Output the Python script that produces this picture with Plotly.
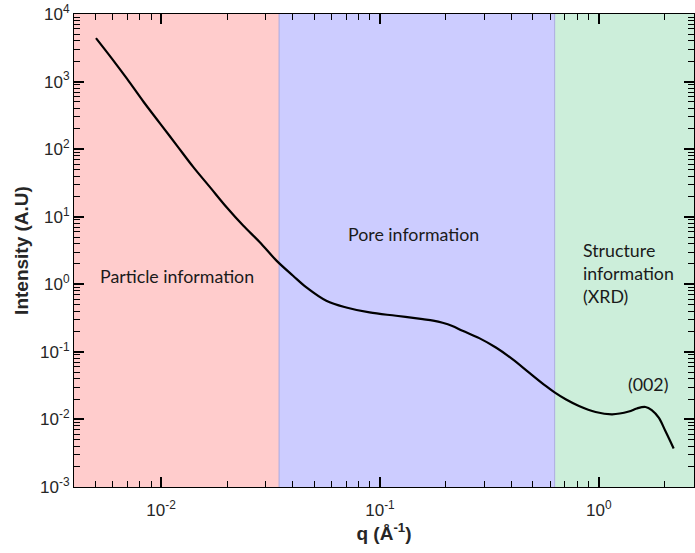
import plotly.graph_objects as go
import numpy as np

# ---- data ----
q_values = [0.00504, 0.00596, 0.00698, 0.00831, 0.0099, 0.01179, 0.01404, 0.01672,
            0.01992, 0.0237, 0.02825, 0.03366, 0.04006, 0.04612, 0.05686, 0.07015,
            0.0896, 0.1185, 0.1567, 0.1750, 0.1932, 0.2140, 0.2383, 0.2840, 0.3384,
            0.4027, 0.4799, 0.5717, 0.630, 0.705, 0.811, 0.966, 1.150, 1.370, 1.490,
            1.633, 1.744, 1.877, 2.013, 2.196]
intensity = [4400, 2188, 1104, 503, 239, 113.9, 54.2, 27.4,
             13.8, 7.40, 4.19, 2.24, 1.34, 0.90, 0.571, 0.454,
             0.383, 0.342, 0.305, 0.290, 0.270, 0.242, 0.205, 0.1596, 0.1159,
             0.0780, 0.0493, 0.0313, 0.0249, 0.01986, 0.0158, 0.01288, 0.01191, 0.01309, 0.01452,
             0.01528, 0.01377, 0.01060, 0.00673, 0.00372]

region_bounds = [0.004, 0.0346, 0.628, 2.72]
region_colors = ["rgb(255,204,204)", "rgb(204,204,255)", "rgb(204,238,218)"]
region_labels = ["Particle information", "Pore information", "Structure<br>information<br>(XRD)"]
peak_label = "(002)"

x_tickvals = [0.01, 0.1, 1]
x_ticktext = ["10<sup>-2</sup>", "10<sup>-1</sup>", "10<sup>0</sup>"]
y_tickvals = [1e-3, 1e-2, 1e-1, 1, 10, 100, 1000, 10000]
y_ticktext = ["10<sup>-3</sup>", "10<sup>-2</sup>", "10<sup>-1</sup>", "10<sup>0</sup>",
              "10<sup>1</sup>", "10<sup>2</sup>", "10<sup>3</sup>", "10<sup>4</sup>"]

# minor tick positions (2..9 within every decade)
x_minor = [m * 10.0 ** e for e in range(-3, 1) for m in range(2, 10)]
y_minor = [m * 10.0 ** e for e in range(-3, 4) for m in range(2, 10)]

x_range = [np.log10(region_bounds[0]), np.log10(region_bounds[-1])]
y_range = [-3, 4]

fig = go.Figure()
fig.add_trace(go.Scatter(x=q_values, y=intensity, mode="lines",
                         line=dict(color="black", width=2.2, shape="spline", smoothing=1.0),
                         showlegend=False))
# carrier trace for the minor-tick axes (invisible)
fig.add_trace(go.Scatter(x=q_values[:1], y=intensity[:1], xaxis="x2", yaxis="y2",
                         mode="markers", marker=dict(opacity=0), showlegend=False))

for i, c in enumerate(region_colors):
    fig.add_shape(type="rect", xref="x", yref="paper",
                  x0=region_bounds[i], x1=region_bounds[i + 1], y0=0, y1=1,
                  fillcolor=c, line=dict(width=0), layer="below")
for b in region_bounds[1:3]:
    fig.add_shape(type="line", xref="x", yref="paper", x0=b, x1=b, y0=0, y1=1,
                  line=dict(color="rgb(170,170,225)", width=1), layer="below")

text_font = dict(family="Lato, 'Open Sans', sans-serif", size=17.8, color="#1a1a1a")
fig.add_annotation(x=-1.927, y=0.128, xref="x", yref="y", text=region_labels[0],
                   showarrow=False, font=text_font, xanchor="center", yanchor="middle")
fig.add_annotation(x=-0.847, y=0.751, xref="x", yref="y", text=region_labels[1],
                   showarrow=False, font=text_font, xanchor="center", yanchor="middle")
fig.add_annotation(x=-0.0806, y=0.172, xref="x", yref="y", text=region_labels[2],
                   showarrow=False, font=text_font, xanchor="left", yanchor="middle", align="left")
fig.add_annotation(x=0.2232, y=-1.475, xref="x", yref="y", text=peak_label,
                   showarrow=False, font=text_font, xanchor="center", yanchor="middle")

title_font = dict(family="Liberation Sans, Arial, sans-serif", size=19, color="#262626")
tick_font = dict(family="Liberation Sans, Arial, sans-serif", size=17, color="#262626")

major_style = dict(showline=True, linecolor="black", mirror="ticks",
                   ticks="inside", ticklen=10, tickwidth=1.5, tickcolor="black", showgrid=False,
                   tickfont=tick_font)
minor_style = dict(mirror="ticks", ticks="inside", ticklen=6, tickwidth=1.2,
                   tickcolor="black", showgrid=False, showticklabels=False)

fig.update_layout(
    xaxis=dict(type="log", range=x_range, tickvals=x_tickvals,
               ticktext=x_ticktext, ticklabelstandoff=8,
               title=dict(text="<b>q (Å<sup>-1</sup>)</b>", standoff=6, font=title_font),
               **major_style),
    yaxis=dict(type="log", range=y_range, tickvals=y_tickvals,
               ticktext=y_ticktext,
               title=dict(text="<b>Intensity (A.U)</b>", standoff=6, font=title_font),
               **major_style),
    xaxis2=dict(type="log", range=x_range, overlaying="x", anchor="y2", side="bottom",
                tickvals=x_minor, **minor_style),
    yaxis2=dict(type="log", range=y_range, overlaying="y", anchor="x2", side="left",
                tickvals=y_minor, **minor_style),
    width=695, height=553, margin=dict(l=74, r=1, t=14, b=66),
    plot_bgcolor="white", showlegend=False,
)

fig.write_html("out.html")
